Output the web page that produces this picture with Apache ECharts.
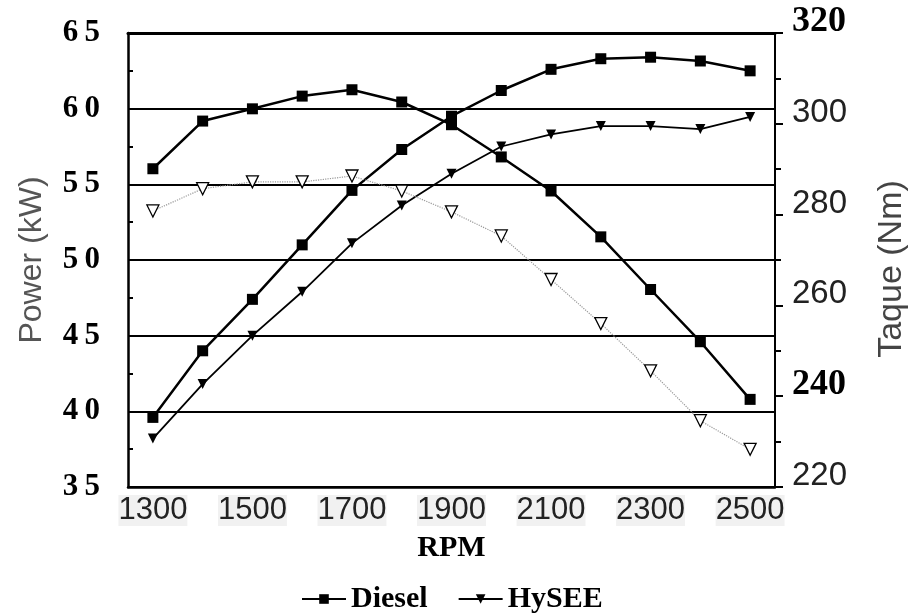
<!DOCTYPE html>
<html>
<head>
<meta charset="utf-8">
<script src="https://cdn.jsdelivr.net/npm/echarts@6/dist/echarts.min.js"></script>
<style>
  html, body { margin: 0; padding: 0; background: #fff; }
  #main { width: 917px; height: 615px; }
</style>
</head>
<body>
<div id="main"></div>
<script>
// data
var rpm = ['1300', '1400', '1500', '1600', '1700', '1800', '1900', '2000', '2100', '2200', '2300', '2400', '2500'];
var dieselPower  = [39.6, 44.0, 47.4, 51.0, 54.6, 57.3, 59.5, 61.2, 62.6, 63.3, 63.4, 63.15, 62.5];
var dieselTorque = [290.1, 300.6, 303.3, 306.1, 307.5, 304.8, 299.8, 292.7, 285.2, 275.1, 263.5, 252.0, 239.3];
var hyseePower   = [38.2, 41.8, 45.0, 47.9, 51.1, 53.6, 55.7, 57.5, 58.3, 58.85, 58.85, 58.65, 59.45];
var hyseeTorque  = [280.8, 285.7, 287.2, 287.2, 288.5, 285.2, 280.6, 275.3, 265.7, 256.0, 245.6, 234.6, 228.3];
var boldTorqueLabels = [320, 240];

var dom = document.getElementById('main');
var myChart = echarts.init(dom);

var option = {
    backgroundColor: '#fff',
    animation: false,
    grid: {
        left: 128,
        right: 142,
        top: 33,
        bottom: 128
    },
    legend: {
        bottom: -4,
        left: 296,
        itemWidth: 44,
        itemHeight: 12,
        itemGap: 30,
        data: ['Diesel', 'HySEE'],
        textStyle: {
            fontFamily: 'Liberation Serif',
            fontWeight: 'bold',
            fontSize: 30,
            color: '#000'
        }
    },
    xAxis: [
        {
            type: 'category',
            data: rpm,
            boundaryGap: true,
            name: 'RPM',
            nameLocation: 'middle',
            nameGap: 46,
            nameTextStyle: {
                fontFamily: 'Liberation Serif',
                fontWeight: 'bold',
                fontSize: 30,
                color: '#000'
            },
            axisLine: { lineStyle: { color: '#000', width: 2.5 } },
            axisTick: { alignWithLabel: true, interval: 0, length: 10, lineStyle: { color: '#000', width: 2 } },
            axisLabel: {
                interval: 1,
                margin: 8,
                fontFamily: 'Liberation Sans',
                fontSize: 31,
                color: '#222',
                backgroundColor: '#f1f1f1'
            },
            splitLine: { show: false }
        },
        {
            // inner half of the crossing ticks
            type: 'category',
            data: rpm,
            boundaryGap: true,
            position: 'bottom',
            axisLine: { show: false },
            axisTick: { alignWithLabel: true, interval: 0, inside: true, length: 10, lineStyle: { color: '#000', width: 2 } },
            axisLabel: { show: false },
            splitLine: { show: false }
        },
        {
            // heavy top border
            type: 'category',
            data: rpm,
            position: 'top',
            axisLine: { lineStyle: { color: '#000', width: 3 } },
            axisTick: { show: false },
            axisLabel: { show: false },
            splitLine: { show: false }
        }
    ],
    yAxis: [
        {
            type: 'value',
            min: 35,
            max: 65,
            interval: 5,
            name: 'Power (kW)',
            nameLocation: 'middle',
            nameRotate: 90,
            nameGap: 80,
            nameTextStyle: {
                fontFamily: 'Liberation Sans',
                fontSize: 32,
                color: '#555'
            },
            axisLine: { show: true, lineStyle: { color: '#000', width: 2.5 } },
            axisTick: { show: true, inside: true, length: 8, lineStyle: { color: '#000', width: 2 } },
            minorTick: { show: true, splitNumber: 2, length: 5, lineStyle: { color: '#000', width: 2 } },
            axisLabel: {
                margin: 28,
                padding: [0, 0, 14, 0],
                fontFamily: 'Liberation Serif',
                fontWeight: 'bold',
                fontSize: 31,
                color: '#000',
                formatter: function (v) { return String(v).split('').join('\u2009'); }
            },
            splitLine: { show: true, lineStyle: { color: '#000', width: 2 } }
        },
        {
            type: 'value',
            min: 220,
            max: 320,
            interval: 20,
            position: 'right',
            name: 'Taque (Nm)',
            nameLocation: 'middle',
            nameRotate: 90,
            nameGap: 100,
            nameTextStyle: {
                fontFamily: 'Liberation Sans',
                fontSize: 34,
                color: '#444',
                padding: [0, 18, 0, 0]
            },
            axisLine: { show: true, lineStyle: { color: '#000', width: 2 } },
            axisTick: { show: true, length: 8, lineStyle: { color: '#000', width: 2 } },
            minorTick: { show: true, splitNumber: 2, length: 6, lineStyle: { color: '#000', width: 2 } },
            axisLabel: {
                margin: 17,
                padding: [0, 0, 22, 0],
                formatter: function (v) {
                    return boldTorqueLabels.indexOf(v) >= 0 ? '{b|' + v + '}' : '{n|' + v + '}';
                },
                rich: {
                    b: { fontFamily: 'Liberation Serif', fontWeight: 'bold', fontSize: 36, color: '#000' },
                    n: { fontFamily: 'Liberation Sans', fontSize: 33, color: '#222' }
                }
            },
            splitLine: { show: false }
        }
    ],
    series: [
        {
            name: 'Diesel',
            type: 'line',
            yAxisIndex: 0,
            data: dieselPower,
            symbol: 'rect',
            symbolSize: 11,
            lineStyle: { color: '#000', width: 2.5 },
            itemStyle: { color: '#000' }
        },
        {
            name: 'HySEE',
            type: 'line',
            yAxisIndex: 0,
            data: hyseePower,
            symbol: 'triangle',
            symbolRotate: 180,
            symbolSize: 10,
            lineStyle: { color: '#000', width: 1.8 },
            itemStyle: { color: '#000' }
        },
        {
            name: 'Diesel',
            type: 'line',
            yAxisIndex: 1,
            data: dieselTorque,
            symbol: 'rect',
            symbolSize: 11,
            lineStyle: { color: '#000', width: 2.5 },
            itemStyle: { color: '#000' }
        },
        {
            name: 'HySEE',
            type: 'line',
            yAxisIndex: 1,
            data: hyseeTorque,
            symbol: 'triangle',
            symbolRotate: 180,
            symbolSize: 12,
            showAllSymbol: true,
            lineStyle: { color: '#999', width: 1.2, type: 'dotted' },
            itemStyle: { color: '#fff', borderColor: '#000', borderWidth: 1.3 }
        }
    ]
};

myChart.setOption(option);
</script>
</body>
</html>
